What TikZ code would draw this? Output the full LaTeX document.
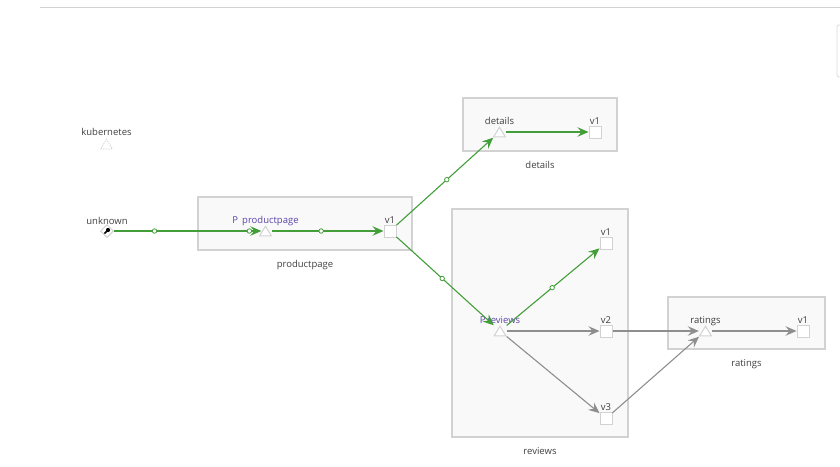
\documentclass[tikz,border=0pt]{standalone}
\usepackage{fontspec}
\setmainfont{Open Sans}
\usetikzlibrary{shapes.geometric,positioning,arrows.meta}
\definecolor{okgreen}{HTML}{439E3A}
\definecolor{idlegray}{HTML}{8E8E8E}
\definecolor{boxgray}{HTML}{D2D2D2}
\definecolor{vspurple}{HTML}{5B45A8}
\begin{document}
\begin{tikzpicture}[x=1pt, y=-1pt,
  grp/.style={draw=boxgray, fill=black!2.5, line width=1.2pt, inner sep=0pt},
  lbl/.style={font=\fontsize{9.5}{11}\selectfont, text=black!75, inner sep=0pt, text height=7.5pt, text depth=2pt},
  vs/.style={lbl, text=vspurple},
  ver/.style={draw=boxgray, fill=white, line width=1pt, minimum size=12pt, inner sep=0pt},
  svc/.style={minimum width=13pt, minimum height=11pt, inner sep=0pt, path picture={
    \draw[draw=boxgray, fill=white, line width=1pt, #1]
      ([shift={(.6pt,.6pt)}]path picture bounding box.south west) --
      ([shift={(-.6pt,.6pt)}]path picture bounding box.south east) --
      ([yshift=-.8pt]path picture bounding box.north) -- cycle;}},
  svc/.default={},
  src/.style={diamond, draw=boxgray, fill=white, line width=1pt, minimum size=13pt, inner sep=0pt, path picture={
    \fill[black] (1pt,1pt) circle (2.1pt);
    \draw[black, line width=1.5pt] (1pt,1pt) -- (-2.6pt,-2.6pt);}},
  ok/.style={draw=okgreen, line width=1.1pt, -{Stealth[length=11pt, width=9.5pt, inset=4pt]}},
  idle/.style={draw=idlegray, line width=1.1pt, -{Stealth[length=11pt, width=9.5pt, inset=4pt]}},
  dot/.style={circle, draw=okgreen, fill=white, line width=.8pt, minimum size=4.5pt, inner sep=0pt},
  node distance=-.7pt]
  \useasboundingbox (0,0) rectangle (840,466);
  \draw[boxgray, line width=.8pt] (40,7.5) coordinate (topl) -- (840,7.5) coordinate (topr);
  \draw[black!15, line width=.8pt, rounded corners=1.5pt] (841,25) -- (837,25) -- (837,77) -- (841,77);
  % service boxes
  \node[grp, minimum width=214pt, minimum height=53pt] (ppbox) at (305,223.5) {};
  \node[grp, minimum width=154pt, minimum height=53pt] (detbox) at (540,124.5) {};
  \node[grp, minimum width=176pt, minimum height=228pt] (revbox) at (540,323) {};
  \node[grp, minimum width=157pt, minimum height=52pt] (ratbox) at (746.5,323) {};
  \node[lbl, below=9pt of ppbox] (pplbl) {productpage};
  \node[lbl, below=9pt of detbox] (detlbl) {details};
  \node[lbl, below=9pt of revbox] (revlbl) {reviews};
  \node[lbl, below=9pt of ratbox] (ratlbl) {ratings};
  % nodes
  \node[svc={dash pattern=on 1.5pt off 1pt, line width=.7pt}] (kube) at (106.5,144) {};
  \node[src] (unknown) at (107,231) {};
  \node[svc] (pp) at (265.5,231) {};
  \node[ver] (ppv1) at (390,231) {};
  \node[svc] (det) at (499.5,132) {};
  \node[ver] (detv1) at (595,132) {};
  \node[svc] (rev) at (500,331) {};
  \node[ver] (revv1) at (606,243) {};
  \node[ver] (revv2) at (606,331) {};
  \node[ver] (revv3) at (606,418.5) {};
  \node[svc] (rat) at (705.5,331) {};
  \node[ver] (ratv1) at (803,331) {};
  \node[lbl, above=.3pt of kube] (kubelbl) {kubernetes};
  \node[lbl, above=-2.5pt of unknown] (unknownlbl) {unknown};
  \node[vs, above=of pp] (pptext) {{\fontsize{9.5}{11}\selectfont P}\, productpage};
  \node[lbl, above=of ppv1] (ppv1lbl) {v1};
  \node[lbl, above=of det] (dettext) {details};
  \node[lbl, above=of detv1] (detv1lbl) {v1};
  \node[vs, above=of rev] (revtext) {{\fontsize{9.5}{11}\selectfont P}\,reviews};
  \node[lbl, above=of revv1] (revv1lbl) {v1};
  \node[lbl, above=of revv2] (revv2lbl) {v2};
  \node[lbl, above=of revv3] (revv3lbl) {v3};
  \node[lbl, above=of rat] (rattext) {ratings};
  \node[lbl, above=of ratv1] (ratv1lbl) {v1};
  % edges
  \draw[ok, shorten >=-2.5pt] (unknown) -- node[dot, pos=.935] (d2) {} node[dot, pos=.28] (d1) {} (pp);
  \draw[ok] (pp) -- node[dot, pos=.44] (d3) {} (ppv1);
  \draw[ok] (ppv1) -- node[dot, pos=.52] (d4) {} (det);
  \draw[ok] (ppv1) -- node[dot, pos=.47] (d5) {} (rev);
  \draw[ok] (det) -- (detv1);
  \draw[ok] (rev) -- node[dot, pos=.49] (d6) {} (revv1);
  \draw[idle] (rev) -- (revv2);
  \draw[idle] (rev) -- (revv3);
  \draw[idle] (revv2) -- (rat);
  \draw[idle] (revv3) -- (rat);
  \draw[idle] (rat) -- (ratv1);
\end{tikzpicture}
\end{document}
